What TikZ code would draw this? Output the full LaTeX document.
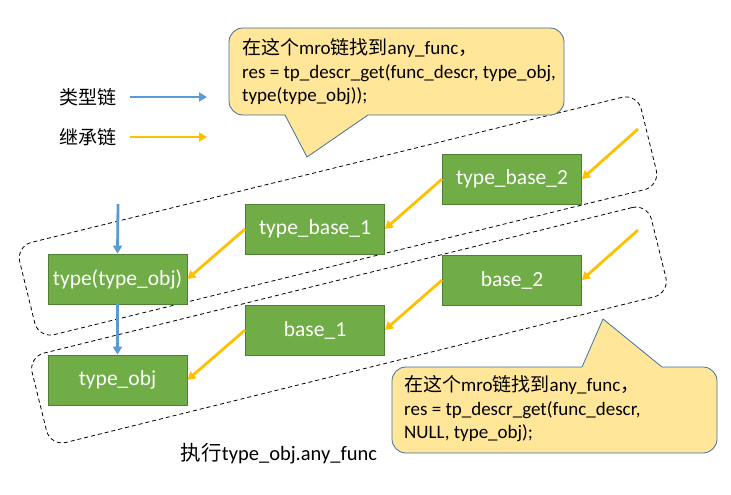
\documentclass[tikz,border=0pt]{standalone}
\usepackage{fontspec}
\setmainfont{Carlito}
\newfontfamily\cjk{Noto Sans CJK SC}
\usetikzlibrary{arrows.meta}
\definecolor{gruen}{HTML}{70AD47}
\definecolor{gruenrand}{HTML}{507E32}
\definecolor{blau}{HTML}{5B9BD5}
\definecolor{orange}{HTML}{FFC000}
\definecolor{gelb}{HTML}{FFE699}
\definecolor{blasenrand}{HTML}{41719C}
\tikzset{
    klasse/.style={draw=gruenrand, fill=gruen, text=white, line width=0.8pt,
        minimum width=139pt, minimum height=50pt, font=\fontsize{21.5}{24}\selectfont},
    typpfeil/.style={blau, line width=2.8pt, -{Triangle[length=8pt, width=9pt]}},
    erbpfeil/.style={orange, line width=2.8pt, -{Triangle[length=8pt, width=9pt]}},
    bereich/.style={draw, dashed, line width=0.8pt, rounded corners=16pt, dash pattern=on 4pt off 3pt},
    blase/.style={fill=gelb, draw=blasenrand, line width=0.8pt},
    blasentext/.style={anchor=west, align=left, inner sep=0pt, font=\fontsize{19}{23.5}\selectfont},
    legende/.style={font=\fontsize{19}{20}\selectfont}
}
\begin{document}
\begin{tikzpicture}[x=1pt, y=-1pt]
        \useasboundingbox (0,0) rectangle (731,495);
        % Bereiche
        \node[bereich, rotate=13.8, minimum width=640pt, minimum height=95pt] (obenbereich) at (338,216) {};
        \node[bereich, rotate=13.9, minimum width=638pt, minimum height=92pt] (untenbereich) at (349,325) {};
        % Legende
        \node[legende] (typlegende) at (88,97) {\cjk 类型链};
        \node[legende] (erblegende) at (88,137) {\cjk 继承链};
        \coordinate (typa) at (130,97);
        \coordinate (typb) at (207,97);
        \coordinate (erba) at (130,137);
        \coordinate (erbb) at (207,137);
        \draw[typpfeil] (typa) -- (typb);
        \draw[erbpfeil] (erba) -- (erbb);
        % Klassen
        \node[klasse] (typtyp) at (117.5,279) {type(type\_obj)};
        \node[klasse] (typobj) at (117.5,380) {type\_obj};
        \node[klasse] (tbase1) at (315,229) {type\_base\_1};
        \node[klasse] (base1) at (315,330) {base\_1};
        \node[klasse] (tbase2) at (512,179) {type\_base\_2};
        \node[klasse] (base2) at (512,280) {base\_2};
        % Pfeile
        \coordinate (typstart) at (118,204);
        \coordinate (oben) at (638,129);
        \coordinate (unten) at (638,230);
        \draw[typpfeil] (typstart) -- (typtyp.north);
        \draw[typpfeil] (typtyp.south) -- (typobj.north);
        \draw[erbpfeil] (oben) -- (tbase2.east);
        \draw[erbpfeil] (tbase2.west) -- (tbase1.east);
        \draw[erbpfeil] (tbase1.west) -- (typtyp.east);
        \draw[erbpfeil] (unten) -- (base2.east);
        \draw[erbpfeil] (base2.west) -- (base1.east);
        \draw[erbpfeil] (base1.west) -- (typobj.east);
        % Sprechblasen
        \draw[blase, rounded corners=14pt] (229,28) rectangle (564,115);
        \fill[gelb] (285,114) -- (285,115) -- (307,157) -- (368,115) -- (368,114) -- cycle;
        \draw[blasenrand, line width=0.8pt] (285,115) -- (307,157) -- (368,115);
        \node[blasentext] (obentext) at (242,72)
            {{\cjk 在这个}mro{\cjk 链找到}any\_func{\cjk ，}\\
             res = tp\_descr\_get(func\_descr, type\_obj,\\
             type(type\_obj));};
        \draw[blase, rounded corners=14pt] (392,367) rectangle (717,453);
        \fill[gelb] (582,368) -- (582,367) -- (603,319) -- (662,367) -- (662,368) -- cycle;
        \draw[blasenrand, line width=0.8pt] (582,367) -- (603,319) -- (662,367);
        \node[blasentext] (untentext) at (404,409)
            {{\cjk 在这个}mro{\cjk 链找到}any\_func{\cjk ，}\\
             res = tp\_descr\_get(func\_descr,\\
             NULL, type\_obj);};
        % Aufruf
        \node[legende, font=\fontsize{20.5}{22}\selectfont] (aufruf) at (279,454) {{\cjk 执行}type\_obj.any\_func};
\end{tikzpicture}
\end{document}
